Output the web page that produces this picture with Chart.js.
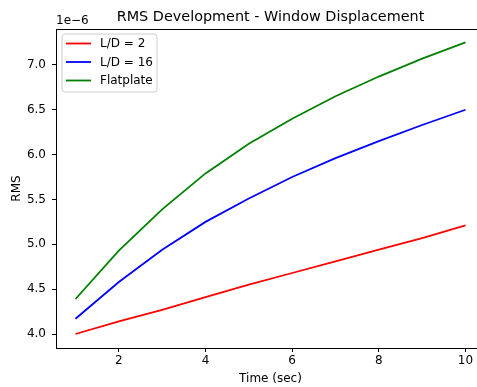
<!DOCTYPE html>
<html>
<head>
<meta charset="utf-8">
<script src="https://cdn.jsdelivr.net/npm/chart.js@4.4.1/dist/chart.umd.min.js"></script>
<style>
  html, body { margin: 0; padding: 0; background: #fff; overflow: hidden; }
</style>
</head>
<body>
<canvas id="rmsChart" width="490" height="387"></canvas>
<script>
// time steps (sec)
var times = [1, 2, 3, 4, 5, 6, 7, 8, 9, 10];

// RMS of window displacement, in units of 1e-6
var rmsLD2 = [4.00, 4.14, 4.27, 4.41, 4.55, 4.68, 4.81, 4.94, 5.07, 5.21];
var rmsLD16 = [4.17, 4.58, 4.94, 5.25, 5.51, 5.75, 5.96, 6.15, 6.33, 6.50];
var rmsFlat = [4.39, 4.93, 5.39, 5.79, 6.12, 6.40, 6.65, 6.87, 7.07, 7.25];

var seriesNames = ['L/D = 2', 'L/D = 16', 'Flatplate'];
var seriesColors = ['#ff0000', '#0000ff', '#008000'];

var xTicks = [2, 4, 6, 8, 10];
var yTicks = [4.0, 4.5, 5.0, 5.5, 6.0, 6.5, 7.0];

var FONT = 'DejaVu Sans';

function toPoints(vals) {
  return times.map(function (t, i) { return { x: t, y: vals[i] }; });
}

function makeSet(i, vals) {
  return {
    label: seriesNames[i],
    data: toPoints(vals),
    borderColor: seriesColors[i],
    backgroundColor: seriesColors[i],
    borderWidth: 1.8,
    pointRadius: 0,
    tension: 0,
    fill: false
  };
}

// title, 1e-6 multiplier, frame and legend box drawn on top of the chart
var decorations = {
  id: 'decorations',
  afterDraw: function (chart) {
    var ctx = chart.ctx;
    var a = chart.chartArea;
    ctx.save();

    ctx.strokeStyle = '#000';
    ctx.lineWidth = 1;
    ctx.beginPath();
    ctx.moveTo(a.left, a.top + 0.5);
    ctx.lineTo(a.right, a.top + 0.5);
    ctx.moveTo(a.right - 0.5, a.top);
    ctx.lineTo(a.right - 0.5, a.bottom);
    ctx.stroke();

    ctx.fillStyle = '#000';
    ctx.font = '14.4px "' + FONT + '"';
    ctx.textAlign = 'center';
    ctx.textBaseline = 'alphabetic';
    ctx.fillText('RMS Development - Window Displacement', (a.left + a.right) / 2, 21);

    ctx.font = '12px "' + FONT + '"';
    ctx.textAlign = 'left';
    ctx.fillText('1e\u22126', a.left, 24);

    // legend
    var bx = 62, by = 34, bw = 95, bh = 58, r = 3;
    ctx.beginPath();
    ctx.moveTo(bx + r, by);
    ctx.arcTo(bx + bw, by, bx + bw, by + bh, r);
    ctx.arcTo(bx + bw, by + bh, bx, by + bh, r);
    ctx.arcTo(bx, by + bh, bx, by, r);
    ctx.arcTo(bx, by, bx + bw, by, r);
    ctx.closePath();
    ctx.fillStyle = 'rgba(255,255,255,0.8)';
    ctx.fill();
    ctx.strokeStyle = '#cccccc';
    ctx.lineWidth = 1;
    ctx.stroke();

    var rows = [43.5, 62, 80.5];
    ctx.textBaseline = 'middle';
    for (var i = 0; i < seriesNames.length; i++) {
      ctx.strokeStyle = seriesColors[i];
      ctx.lineWidth = 1.8;
      ctx.beginPath();
      ctx.moveTo(66, rows[i]);
      ctx.lineTo(91, rows[i]);
      ctx.stroke();
      ctx.fillStyle = '#000';
      ctx.fillText(seriesNames[i], 100, rows[i] + 0.5);
    }
    ctx.restore();
  }
};

new Chart(document.getElementById('rmsChart'), {
  type: 'line',
  data: {
    datasets: [makeSet(0, rmsLD2), makeSet(1, rmsLD16), makeSet(2, rmsFlat)]
  },
  options: {
    responsive: false,
    animation: false,
    layout: { padding: { left: 0, top: 29, right: 5, bottom: 0 } },
    plugins: {
      legend: { display: false },
      tooltip: { enabled: false }
    },
    scales: {
      x: {
        type: 'linear',
        min: 0.55,
        max: 10.45,
        afterBuildTicks: function (s) { s.ticks = xTicks.map(function (v) { return { value: v }; }); },
        afterFit: function (s) { s.height = 39; },
        grid: { drawOnChartArea: false, drawTicks: true, tickLength: 4, tickColor: '#000' },
        border: { display: true, color: '#000', width: 1 },
        ticks: {
          color: '#000',
          font: { family: FONT, size: 12 },
          padding: 2,
          maxRotation: 0,
          callback: function (v) { return String(v); }
        },
        title: {
          display: true,
          text: 'Time (sec)',
          color: '#000',
          font: { family: FONT, size: 12 },
          padding: { top: 0, bottom: 1 }
        }
      },
      y: {
        type: 'linear',
        min: 3.844,
        max: 7.40,
        afterBuildTicks: function (s) { s.ticks = yTicks.map(function (v) { return { value: v }; }); },
        afterFit: function (s) { s.width = 56; },
        grid: { drawOnChartArea: false, drawTicks: true, tickLength: 4, tickColor: '#000' },
        border: { display: true, color: '#000', width: 1 },
        ticks: {
          color: '#000',
          font: { family: FONT, size: 12 },
          padding: 6,
          callback: function (v) { return v.toFixed(1); }
        },
        title: {
          display: true,
          text: 'RMS',
          color: '#000',
          font: { family: FONT, size: 12 },
          padding: { top: 10, bottom: 0 }
        }
      }
    }
  },
  plugins: [decorations]
});
</script>
</body>
</html>
